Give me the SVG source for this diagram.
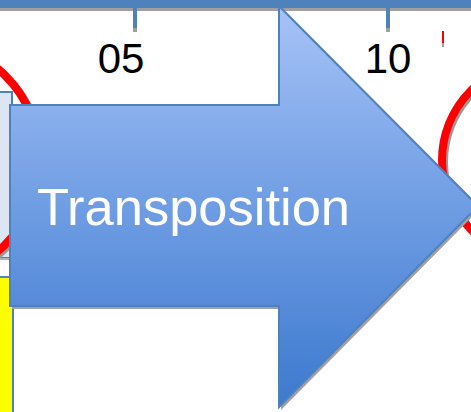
<svg xmlns="http://www.w3.org/2000/svg" width="471" height="412" viewBox="0 0 471 412">
<defs>
<linearGradient id="g" gradientUnits="userSpaceOnUse" x1="0" y1="6" x2="0" y2="407">
<stop offset="0" stop-color="#a6c3f7"/>
<stop offset="0.5" stop-color="#6f9de3"/>
<stop offset="1" stop-color="#3c79cf"/>
</linearGradient>
</defs>
<style>
.num{font-family:"Liberation Sans",Arial,sans-serif;font-size:42px;fill:#000;text-anchor:middle}
.lbl{font-family:"Liberation Sans",Arial,sans-serif;font-size:52px;fill:#fff}
.ring{fill:none;stroke:#ff0000;stroke-width:8}
.ringsh{fill:none;stroke:#9a9a9a;stroke-width:8}
</style>
<rect width="471" height="412" fill="#fff"/>
<g id="topbar">
<rect x="0" y="7" width="471" height="4" fill="#a0a0a0"/>
<rect x="0" y="0" width="471" height="8" fill="#4f81bd"/>
<rect x="133" y="8" width="4" height="20" fill="#4f81bd"/>
<rect x="133" y="28" width="4" height="4" fill="#a0a0a0"/>
<rect x="386" y="8" width="4" height="20" fill="#4f81bd"/>
<rect x="386" y="28" width="4" height="4" fill="#a0a0a0"/>
</g>
<g id="label-05"><text class="num" x="121" y="73">05</text></g>
<g id="label-10"><text class="num" x="388" y="73">10</text></g>
<g id="red-tick">
<rect x="442" y="31" width="2" height="12" fill="#ff0000"/>
<rect x="442" y="43" width="2" height="4" fill="#a0a0a0"/>
</g>
<g id="left-box">
<rect x="-2" y="92" width="14" height="166" fill="#dce6f2" stroke="#4f81bd" stroke-width="2"/>
<rect x="0" y="258" width="14" height="2" fill="#b0b0b0"/>
<rect x="-2" y="277" width="15" height="140" fill="#ffff00" stroke="#4f81bd" stroke-width="2"/>
</g>
<g id="left-ring">
<circle class="ringsh" cx="-78" cy="162" r="120"/>
<circle class="ring" cx="-80" cy="160" r="120"/>
</g>
<g id="right-ring">
<circle class="ringsh" cx="542" cy="162" r="98"/>
<circle class="ring" cx="540" cy="160" r="98"/>
</g>
<g id="arrow">
<path d="M12 108 H281 V9 L480 209 L281 410 V309 H12 Z" fill="#a0a0a0"/>
<path d="M10 105 H279 V6 L478 206 L279 407 V306 H10 Z" fill="url(#g)" stroke="#4f81bd" stroke-width="2" stroke-linejoin="miter"/>
<text class="lbl" x="37" y="225" textLength="313" lengthAdjust="spacingAndGlyphs">Transposition</text>
</g>
</svg>
